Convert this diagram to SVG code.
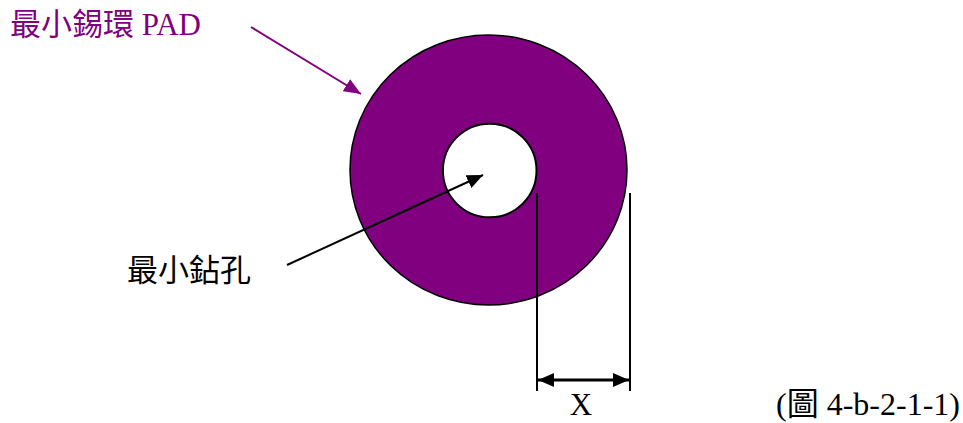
<svg xmlns="http://www.w3.org/2000/svg" width="963" height="423" viewBox="0 0 963 423">
<defs>
<style>
.lbl{font-family:"Liberation Serif","Noto Sans CJK TC",serif;font-size:31px;}
.conn{stroke-width:2;fill:none;}
</style>
<marker id="ahP" viewBox="0 0 10 10" refX="10" refY="5" markerWidth="17" markerHeight="14" orient="auto" markerUnits="userSpaceOnUse" preserveAspectRatio="none">
<path d="M0,0 L10,5 L0,10 z" fill="#800080"/>
</marker>
<marker id="ahB" viewBox="0 0 10 10" refX="10" refY="5" markerWidth="16" markerHeight="14" orient="auto-start-reverse" markerUnits="userSpaceOnUse" preserveAspectRatio="none">
<path d="M0,0 L10,5 L0,10 z" fill="#000"/>
</marker>
</defs>
<rect width="963" height="423" fill="#fff"/>
<g id="pad">
<ellipse cx="488.5" cy="170" rx="138.5" ry="135" fill="#800080" stroke="#000" stroke-width="1.5"/>
</g>
<g id="hole">
<circle cx="489.7" cy="170.5" r="46.8" fill="#fff" stroke="#000" stroke-width="2"/>
</g>
<g id="label-pad">
<text class="lbl" x="10" y="35" fill="#800080">最小錫環 PAD</text>
</g>
<g id="label-hole">
<text class="lbl" x="127" y="281" fill="#000">最小鉆孔</text>
</g>
<g id="label-x">
<text class="lbl" x="581" y="415" text-anchor="middle" fill="#000">X</text>
</g>
<g id="caption">
<text class="lbl" x="960" y="415" text-anchor="end" fill="#000" style="font-size:32px">(圖 4-b-2-1-1)</text>
</g>
<g id="connectors">
<line class="conn" x1="251" y1="27" x2="361" y2="94" stroke="#800080" marker-end="url(#ahP)"/>
<line class="conn" x1="287" y1="265" x2="483" y2="175" stroke="#000" marker-end="url(#ahB)"/>
<line class="conn" x1="537" y1="193" x2="537" y2="391" stroke="#000"/>
<line class="conn" x1="630" y1="193" x2="630" y2="391" stroke="#000"/>
<line class="conn" x1="538" y1="380" x2="629" y2="380" stroke="#000" marker-start="url(#ahB)" marker-end="url(#ahB)" style="stroke-width:3"/>
</g>
</svg>
